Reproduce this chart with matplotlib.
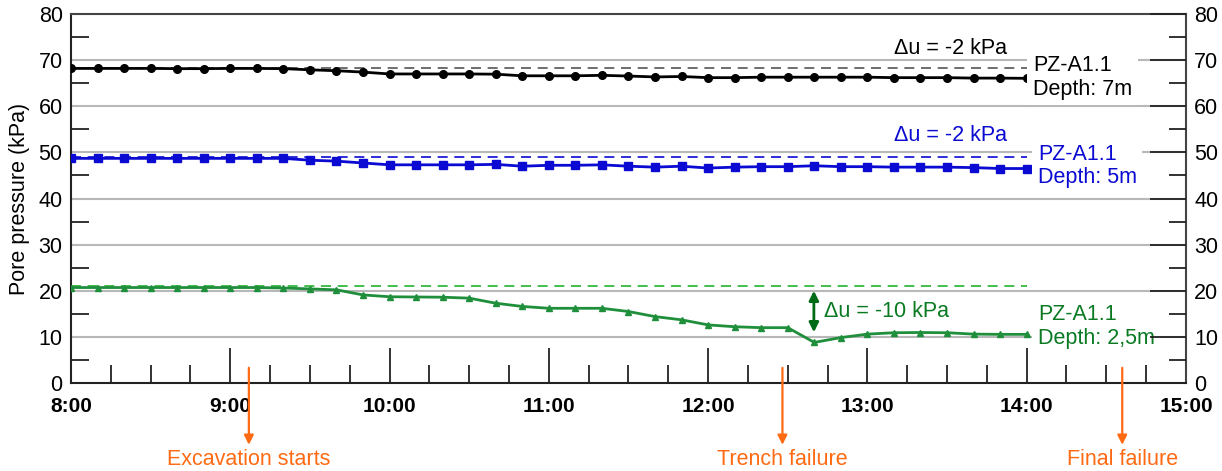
import numpy as np
import matplotlib.pyplot as plt
from matplotlib.ticker import MultipleLocator, FixedLocator

plt.rcParams['font.family'] = ['Liberation Sans', 'DejaVu Sans']

# readings every 10 minutes, 8:00 to 14:00
t_start = 8.0
t_step = 10 / 60

pz_7m = [68.2, 68.2, 68.2, 68.2, 68.15, 68.15, 68.2, 68.2, 68.15,
         67.9, 67.7, 67.4, 67.0, 67.0, 67.0, 67.0, 66.95, 66.6, 66.6,
         66.6, 66.7, 66.55, 66.35, 66.45, 66.2, 66.2, 66.3, 66.3, 66.3,
         66.3, 66.3, 66.2, 66.2, 66.2, 66.1, 66.1, 66.05]
pz_5m = [48.7, 48.7, 48.7, 48.7, 48.7, 48.7, 48.7, 48.7, 48.7,
         48.3, 48.1, 47.7, 47.3, 47.3, 47.3, 47.3, 47.4, 47.0, 47.2,
         47.2, 47.3, 47.0, 46.8, 47.0, 46.6, 46.8, 46.9, 46.9, 47.1,
         46.9, 46.9, 46.8, 46.8, 46.8, 46.7, 46.5, 46.5]
pz_25m = [20.7, 20.7, 20.7, 20.7, 20.7, 20.7, 20.7, 20.7, 20.6,
          20.4, 20.2, 19.1, 18.7, 18.65, 18.6, 18.4, 17.3, 16.6, 16.2,
          16.2, 16.2, 15.5, 14.4, 13.7, 12.6, 12.2, 12.0, 12.0, 8.8,
          9.85, 10.6, 10.9, 10.95, 10.9, 10.6, 10.55, 10.55]

# initial levels (dashed reference lines)
ref_7m, ref_5m, ref_25m = 68.3, 49.0, 21.0
du_7m, du_5m, du_25m = -2, -2, -10

hour_ticks = [8, 9, 10, 11, 12, 13, 14, 15]
hour_labels = [f'{h}:00' for h in hour_ticks]

events = ['Excavation starts', 'Trench failure', 'Final failure']
event_times = [9 + 7 / 60, 12 + 28 / 60, 14 + 36 / 60]

times = t_start + np.arange(len(pz_7m)) * t_step

black = '#000000'
blue = '#0a0ad2'
green = '#1f8f3c'
green_txt = '#0a7a22'
orange = '#ff6a13'
fs = 15.5

fig = plt.figure(figsize=(12.22, 4.71), dpi=100)
ax = fig.add_axes([0.0581, 0.1868, 0.9124, 0.7835])

ax.set_xlim(8, 15)
ax.set_ylim(0, 80)

for y in range(10, 80, 10):
    ax.axhline(y, color='#b8b8b8', lw=1.5, zorder=0)

t0, t1 = times[0], times[-1]
ax.plot([t0, t1], [ref_7m] * 2, ls=(0, (6, 4)), color='#555555', lw=1.2)
ax.plot([t0, t1], [ref_5m] * 2, ls=(0, (6, 4)), color=blue, lw=1.2)
ax.plot([t0, t1], [ref_25m] * 2, ls=(0, (6, 4)), color='#22b32e', lw=1.2)

ax.plot(times, pz_7m, color=black, lw=2, marker='o', ms=5.5, zorder=3)
ax.plot(times, pz_5m, color=blue, lw=2, marker='s', ms=5.5, zorder=3)
ax.plot(times, pz_25m, color=green, lw=2, marker='^', ms=5, zorder=3)

box = dict(facecolor='white', edgecolor='none', pad=4)
ax.text(14.04, 66.2, 'PZ-A1.1\nDepth: 7m', color=black, fontsize=fs,
        va='center', ha='left', linespacing=1.15, bbox=box, zorder=4)
ax.text(14.07, 47.1, 'PZ-A1.1\nDepth: 5m', color=blue, fontsize=fs,
        va='center', ha='left', linespacing=1.15, bbox=box, zorder=4)
ax.text(14.07, 12.2, 'PZ-A1.1\nDepth: 2,5m', color=green_txt, fontsize=fs,
        va='center', ha='left', linespacing=1.2, bbox=box, zorder=4)

ax.text(13.52, 72.6, f'Δu = {du_7m} kPa', color=black, fontsize=fs,
        ha='center', va='center')
ax.text(13.52, 53.6, f'Δu = {du_5m} kPa', color=blue, fontsize=fs,
        ha='center', va='center')
ax.text(12.73, 15.6, f'Δu = {du_25m} kPa', color=green_txt, fontsize=fs,
        ha='left', va='center')

# drop marker for the shallow piezometer
ax.annotate('', xy=(12.664, ref_25m + du_25m), xytext=(12.664, ref_25m - 1),
            arrowprops=dict(arrowstyle='<|-|>', color='#006b16', lw=2,
                            mutation_scale=14, shrinkA=0, shrinkB=0))

for name, t in zip(events, event_times):
    ax.annotate('', xy=(t, -13.4), xytext=(t, 3.3), annotation_clip=False,
                arrowprops=dict(arrowstyle='-|>', color=orange, lw=1.6,
                                mutation_scale=14, shrinkA=0, shrinkB=0))
    ax.text(t, -16.6, name, color=orange, fontsize=fs, ha='center',
            va='center', clip_on=False)

# axes styling
for side in ['top', 'right']:
    ax.spines[side].set_color('#444444')
    ax.spines[side].set_linewidth(1.5)
for side in ['left', 'bottom']:
    ax.spines[side].set_color('#222222')
    ax.spines[side].set_linewidth(1.5)

ax.xaxis.set_major_locator(FixedLocator(hour_ticks))
ax.set_xticklabels(hour_labels, fontweight='bold', fontsize=15)
ax.xaxis.set_minor_locator(MultipleLocator(0.25))
ax.tick_params(axis='x', which='major', direction='in', length=25,
               width=1.3, color='#222222', pad=10)
ax.tick_params(axis='x', which='minor', direction='in', length=13,
               width=1.3, color='#222222')

ax.yaxis.set_major_locator(MultipleLocator(10))
ax.yaxis.set_minor_locator(MultipleLocator(5))
ax.tick_params(axis='y', which='major', length=0, labelsize=fs, pad=6)
ax.tick_params(axis='y', which='minor', direction='in', length=13,
               width=1.3, color='#222222')
ax.set_ylabel('Pore pressure (kPa)', fontsize=fs, labelpad=6)

ax2 = ax.twinx()
ax2.set_ylim(ax.get_ylim())
ax2.yaxis.set_major_locator(MultipleLocator(10))
ax2.yaxis.set_minor_locator(MultipleLocator(5))
ax2.tick_params(axis='y', which='major', direction='in', length=26,
                width=1.3, color='#222222', labelsize=fs, pad=6)
ax2.tick_params(axis='y', which='minor', direction='in', length=12,
                width=1.3, color='#222222')
for s in ax2.spines.values():
    s.set_visible(False)

fig.savefig('out.png', dpi=100)
